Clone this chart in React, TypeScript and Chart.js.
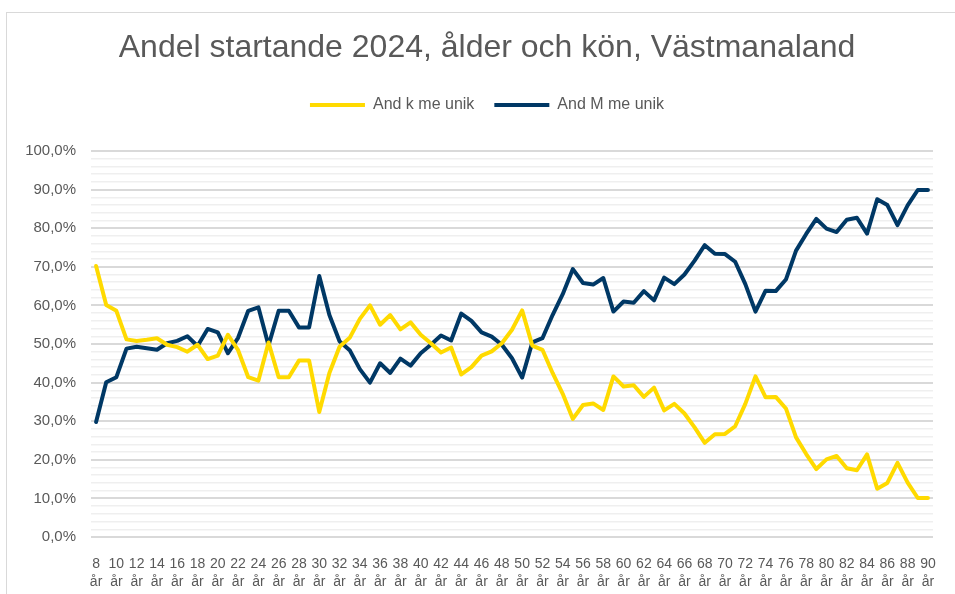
import { useEffect, useRef } from "react";
import { Chart, registerables } from "chart.js";

Chart.register(...registerables);

const ages = [
  8, 9, 10, 11, 12, 13, 14, 15, 16, 17, 18, 19, 20, 21, 22, 23, 24, 25, 26, 27,
  28, 29, 30, 31, 32, 33, 34, 35, 36, 37, 38, 39, 40, 41, 42, 43, 44, 45, 46, 47,
  48, 49, 50, 51, 52, 53, 54, 55, 56, 57, 58, 59, 60, 61, 62, 63, 64, 65, 66, 67,
  68, 69, 70, 71, 72, 73, 74, 75, 76, 77, 78, 79, 80, 81, 82, 83, 84, 85, 86, 87,
  88, 89, 90,
];
const ageUnit = "år";
const categories = ages.map((a) => `${a} ${ageUnit}`);

// Andel kvinnor (procent)
const andKMeUnik = [
  70.2, 60.1, 58.6, 51.2, 50.8, 51.1, 51.5, 49.8, 49.2, 48.0,
  49.8, 46.1, 47.0, 52.4, 48.4, 41.4, 40.5, 50.4, 41.4, 41.4,
  45.7, 45.7, 32.4, 42.5, 49.3, 51.6, 56.5, 60.0, 55.0, 57.5,
  53.8, 55.6, 52.4, 50.2, 47.8, 49.1, 42.1, 44.0, 47.0, 48.1,
  50.2, 53.7, 58.7, 49.6, 48.5, 42.5, 37.1, 30.6, 34.2, 34.6,
  32.9, 41.6, 39.0, 39.3, 36.3, 38.7, 32.8, 34.5, 32.0, 28.4,
  24.4, 26.6, 26.7, 28.7, 34.5, 41.6, 36.2, 36.3, 33.3, 25.8,
  21.5, 17.6, 20.1, 21.0, 17.8, 17.3, 21.4, 12.5, 14.0, 19.2,
  14.1, 10.1, 10.1,
];

// Andel män (procent)
const andMMeUnik = [
  29.8, 40.1, 41.4, 48.8, 49.3, 48.9, 48.5, 50.2, 50.8, 52.0,
  49.5, 53.9, 53.0, 47.6, 51.6, 58.6, 59.5, 49.6, 58.6, 58.6,
  54.3, 54.3, 67.6, 57.5, 50.7, 48.4, 43.5, 40.0, 45.0, 42.5,
  46.2, 44.4, 47.6, 49.8, 52.2, 50.9, 57.9, 56.0, 53.0, 51.9,
  49.8, 46.3, 41.3, 50.4, 51.5, 57.5, 62.9, 69.4, 65.8, 65.4,
  67.1, 58.4, 61.0, 60.7, 63.7, 61.3, 67.2, 65.5, 68.0, 71.6,
  75.6, 73.4, 73.3, 71.3, 65.5, 58.4, 63.8, 63.7, 66.7, 74.2,
  78.5, 82.4, 79.9, 79.0, 82.2, 82.7, 78.6, 87.5, 86.0, 80.8,
  85.9, 89.9, 89.9,
];

const titleText = "Andel startande 2024, ålder och kön, Västmanaland";
const seriesNames = ["And k me unik", "And M me unik"];
const seriesColors = ["#FFDA00", "#003865"];

const isMajor = (v: number) => Math.abs(Math.round(v) % 10) === 0;

export default function App() {
  const canvasRef = useRef<HTMLCanvasElement | null>(null);

  useEffect(() => {
    if (!canvasRef.current) return;
    const textColor = "#595959";
    const fontFamily = "'Liberation Sans', Arial, sans-serif";
    const chart = new Chart(canvasRef.current, {
      type: "line",
      data: {
        labels: categories,
        datasets: [
          {
            label: seriesNames[0],
            data: andKMeUnik,
            borderColor: seriesColors[0],
            backgroundColor: seriesColors[0],
            borderWidth: 4,
            pointRadius: 0,
            pointStyle: "line",
            tension: 0,
            borderJoinStyle: "round",
            borderCapStyle: "round",
            yAxisID: "y",
          },
          {
            label: seriesNames[1],
            data: andMMeUnik,
            borderColor: seriesColors[1],
            backgroundColor: seriesColors[1],
            borderWidth: 4,
            pointRadius: 0,
            pointStyle: "line",
            tension: 0,
            borderJoinStyle: "round",
            borderCapStyle: "round",
            yAxisID: "y",
          },
        ],
      },
      options: {
        animation: false,
        responsive: false,
        maintainAspectRatio: false,
        layout: { padding: { top: 12, left: 6, right: 32, bottom: 0 } },
        plugins: {
          title: {
            display: true,
            text: titleText,
            color: textColor,
            font: { family: fontFamily, size: 32, weight: "normal", lineHeight: 1.2 },
            padding: { top: 17, bottom: 9.6 },
          },
          subtitle: {
            display: true,
            text: "",
            weight: 500,
            font: { size: 10, lineHeight: 1 },
            padding: { top: 0, bottom: 18 },
          },
          legend: {
            display: true,
            position: "top",
            labels: {
              usePointStyle: true,
              pointStyleWidth: 55,
              color: textColor,
              padding: 20,
              font: { family: fontFamily, size: 16 },
            },
          },
          tooltip: { enabled: false },
        },
        scales: {
          x: {
            type: "category",
            offset: true,
            grid: { display: false, drawTicks: false },
            border: { display: false },
            afterFit: (scale: any) => {
              scale.height = 57;
            },
            ticks: {
              autoSkip: false,
              maxRotation: 0,
              minRotation: 0,
              padding: 18,
              color: textColor,
              font: { family: fontFamily, size: 14, lineHeight: 1.3 },
              callback: (_v: any, index: number) =>
                index % 2 === 0 ? [String(ages[index]), ageUnit] : "",
            },
          },
          y: {
            position: "left",
            min: 0,
            max: 100,
            border: { display: false },
            afterFit: (scale: any) => {
              scale.width = 85;
            },
            grid: {
              drawTicks: false,
              color: (ctx: any) => (isMajor(ctx.tick.value) ? "#d9d9d9" : "#efefef"),
              lineWidth: (ctx: any) => (isMajor(ctx.tick.value) ? 2 : 1.5),
            },
            ticks: {
              stepSize: 2,
              autoSkip: false,
              padding: 15,
              color: textColor,
              font: { family: fontFamily, size: 15 },
              callback: (v: any) => {
                const n = Number(v);
                return isMajor(n) ? `${Math.round(n).toFixed(1).replace(".", ",")}%` : "";
              },
            },
          },
          yRight: {
            position: "right",
            display: true,
            min: 0,
            max: 100,
            grid: { display: false, drawTicks: false },
            border: { display: false },
            ticks: { display: false },
            afterFit: (scale: any) => {
              scale.width = 35;
            },
          },
        },
      },
    } as any);
    return () => chart.destroy();
  }, []);

  return (
    <>
      <div
        style={{
          position: "fixed",
          left: 6,
          top: 12,
          width: 1000,
          height: 700,
          border: "1px solid #d9d9d9",
          boxSizing: "border-box",
          background: "#fff",
        }}
      />
      <div style={{ position: "fixed", left: 0, top: 0, width: 955, height: 594, overflow: "hidden" }}>
        <canvas ref={canvasRef} width={1000} height={594} style={{ width: 1000, height: 594, display: "block" }} />
      </div>
    </>
  );
}
